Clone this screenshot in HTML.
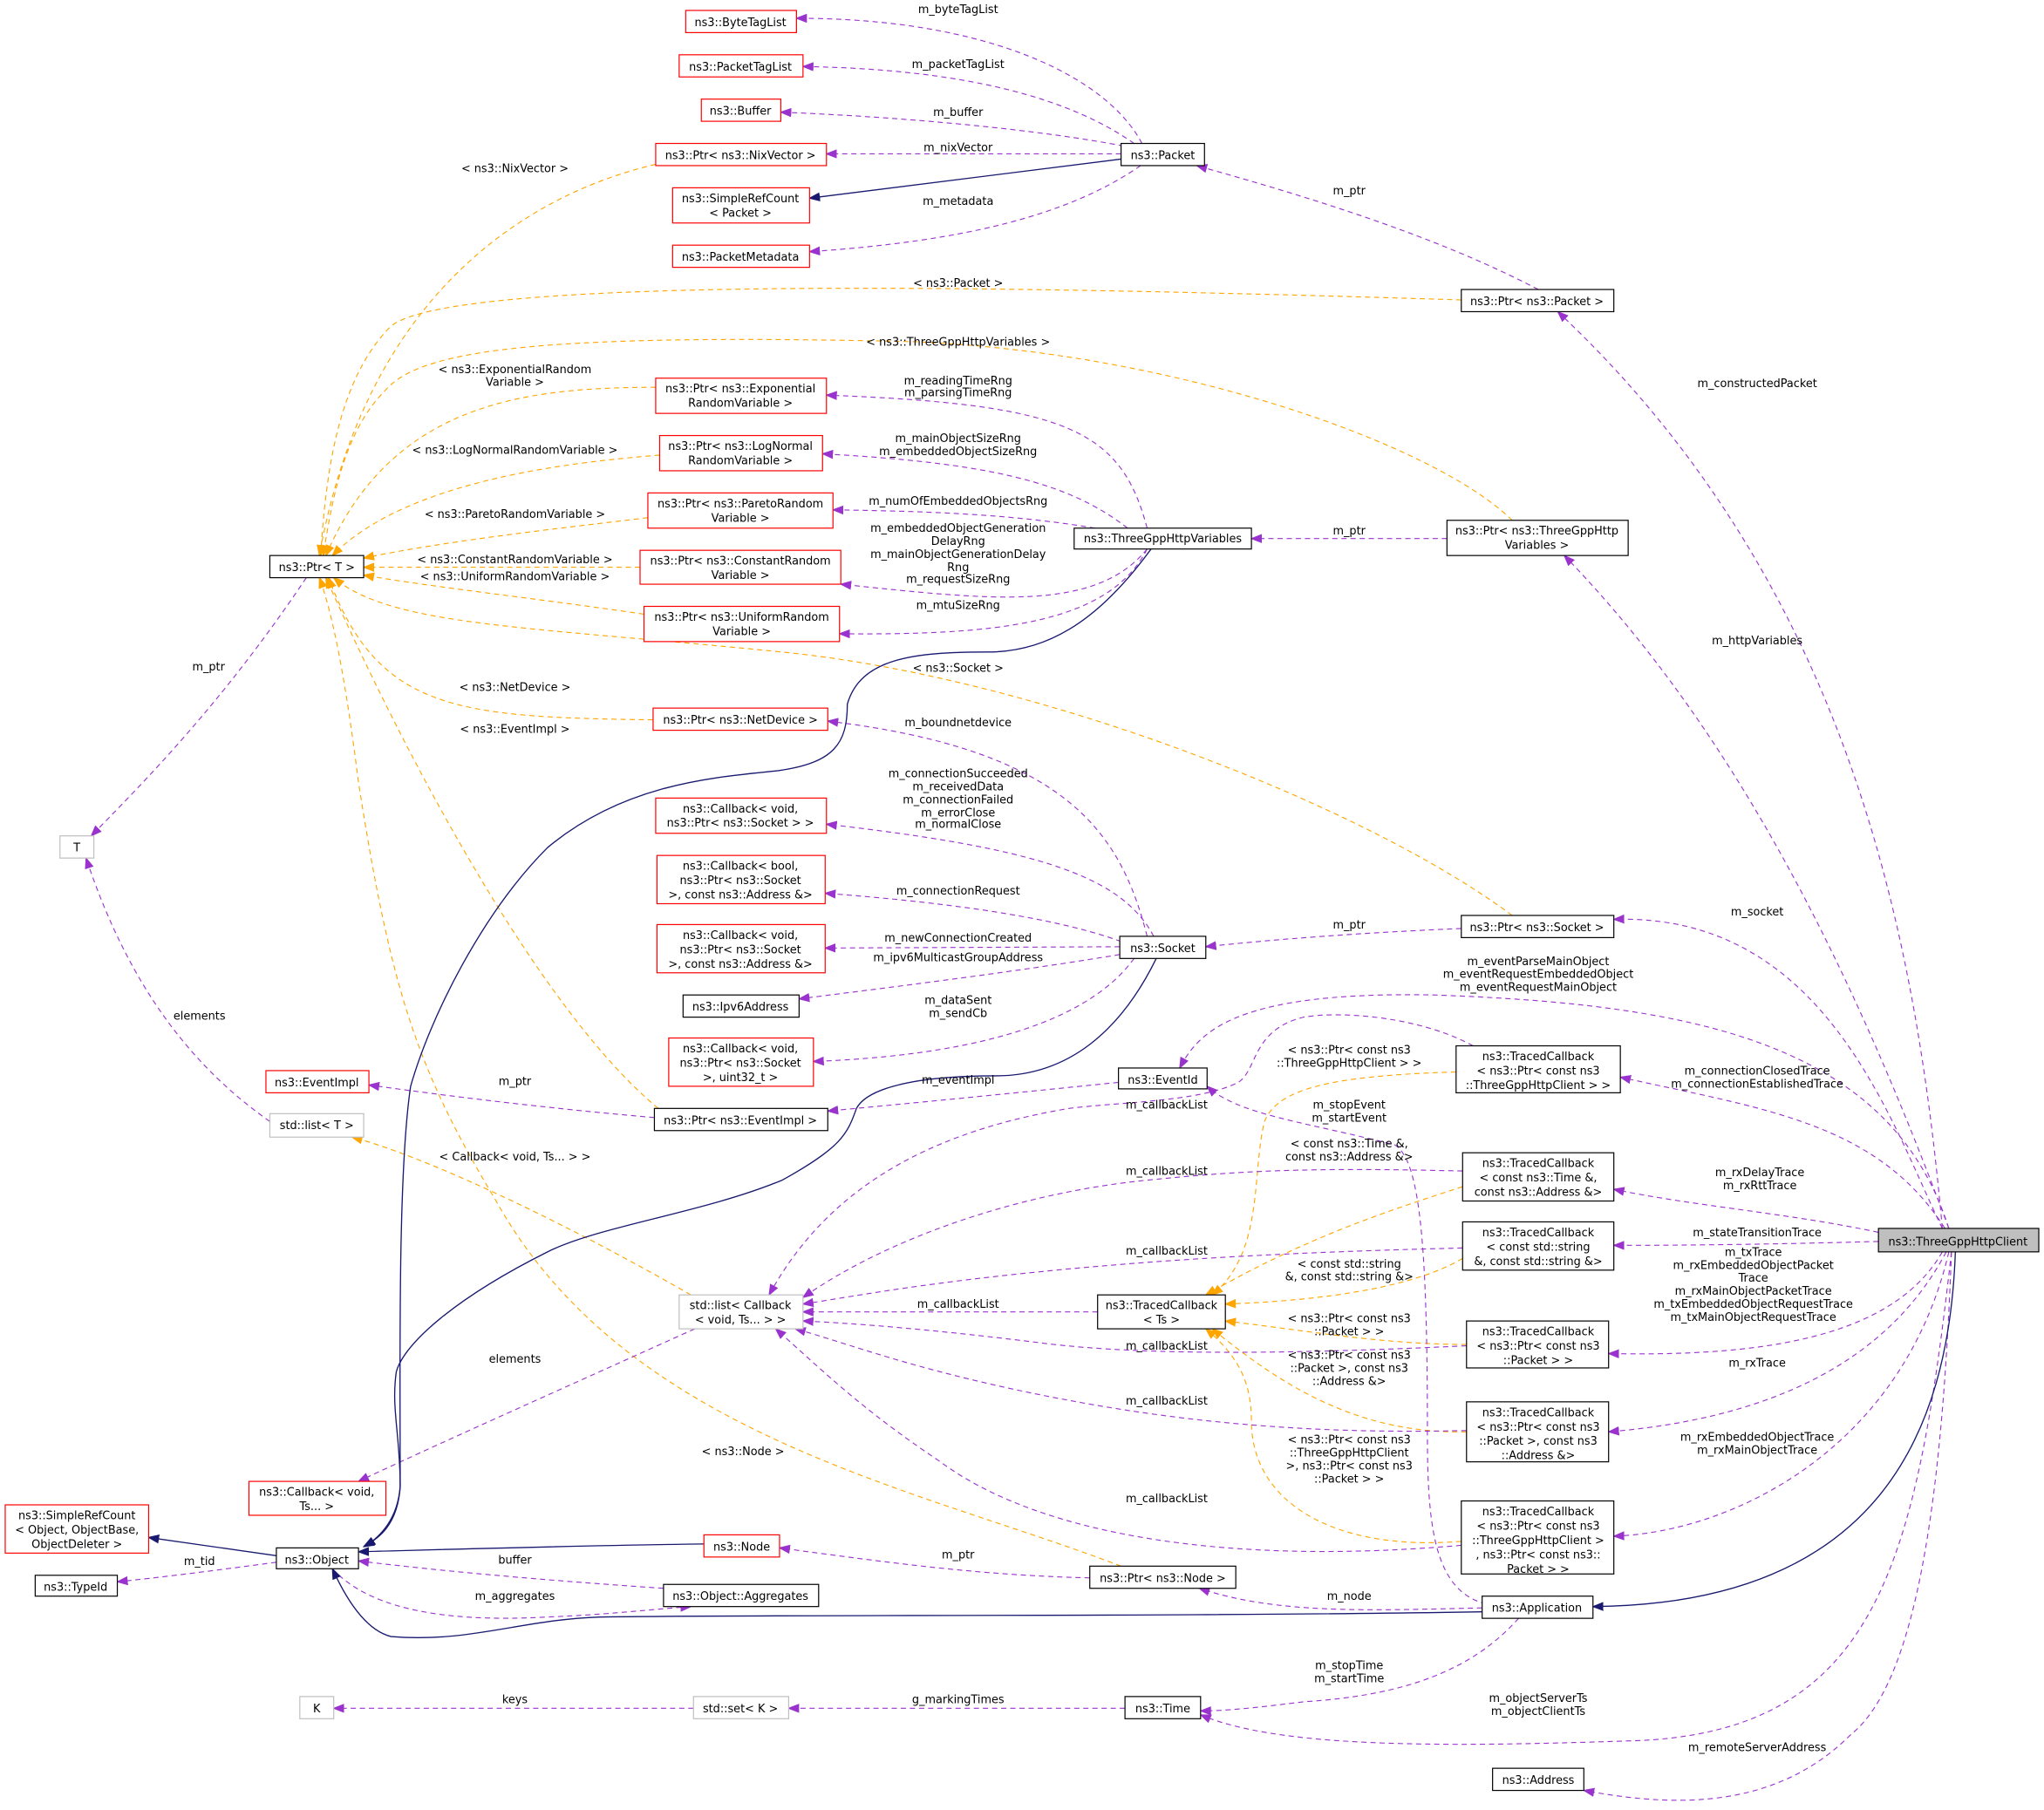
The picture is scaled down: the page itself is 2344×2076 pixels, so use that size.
<!DOCTYPE html>
<html><head><meta charset="utf-8"><style>
html,body{margin:0;padding:0;background:#fff;}
svg{display:block;}
text{font-family:"DejaVu Sans","Liberation Sans",sans-serif;font-size:8.6px;fill:#000;text-anchor:middle;}
.p{fill:none;stroke:#9a32cd;stroke-width:0.75;stroke-dasharray:4,3;}
.o{fill:none;stroke:#ffa500;stroke-width:0.75;stroke-dasharray:4,3;}
.n{fill:none;stroke:#191970;stroke-width:0.9;}
.r{fill:#fff;stroke:#ff0000;stroke-width:0.8;}
.b{fill:#fff;stroke:#000;stroke-width:0.8;}
.g{fill:#fff;stroke:#bfbfbf;stroke-width:0.8;}
</style></head><body>
<svg width="2344" height="2076" viewBox="0 0 1568 1388" preserveAspectRatio="none" xmlns="http://www.w3.org/2000/svg">
<defs>
<marker id="mp" markerWidth="9" markerHeight="7" refX="8" refY="3.5" orient="auto" markerUnits="userSpaceOnUse"><path d="M0,0 L9,3.5 L0,7 z" fill="#9a32cd"/></marker>
<marker id="mo" markerWidth="9" markerHeight="7" refX="8" refY="3.5" orient="auto" markerUnits="userSpaceOnUse"><path d="M0,0 L9,3.5 L0,7 z" fill="#ffa500"/></marker>
<marker id="mn" markerWidth="9" markerHeight="7" refX="8" refY="3.5" orient="auto" markerUnits="userSpaceOnUse"><path d="M0,0 L9,3.5 L0,7 z" fill="#191970"/></marker>
</defs>

<!-- orange edges to Ptr<T> -->
<g class="o" marker-end="url(#mo)">
<path d="M503,126 C400,150 280,230 245,426"/>
<path d="M1121,230 C800,220 350,210 300,250 C260,290 250,360 246,426"/>
<path d="M1160,399 C1100,340 900,270 700,262 C400,255 320,270 295,300 C265,330 255,380 248,426"/>
<path d="M503,297 C400,297 300,310 250,426"/>
<path d="M506,349 C430,355 310,370 255,426"/>
<path d="M497,397 C430,405 340,415 279,428"/>
<path d="M491,435 L279,435"/>
<path d="M494,471 C420,460 330,450 279,441"/>
<path d="M1160,702 C1050,620 800,520 600,500 C400,480 300,480 256,443"/>
<path d="M501,552 C350,550 290,545 252,443"/>
<path d="M505,850 C420,780 320,600 250,443"/>
<path d="M860,1201 C700,1140 480,1100 380,920 C320,820 300,760 275,600 C265,520 255,470 245,443"/>
<path d="M530,993 C420,930 320,885 270,872"/>
<path d="M1117,822 C1020,825 980,835 970,860 C960,900 970,960 930,993"/>
<path d="M1122,910 C1060,930 1000,950 925,993"/>
<path d="M1122,965 C1080,990 1000,998 940,1000"/>
<path d="M1125,1031 C1060,1031 1000,1020 940,1013"/>
<path d="M1125,1098 C1040,1100 980,1060 930,1019"/>
<path d="M1121,1182 C1020,1190 960,1150 960,1090 C960,1060 950,1040 925,1019"/>
</g>

<!-- purple edges -->
<g class="p" marker-end="url(#mp)">
<path d="M876,110 C850,60 760,14 611,14"/>
<path d="M870,110 C820,75 740,53 616,51"/>
<path d="M862,112 C800,100 700,90 599,86"/>
<path d="M860,118 L634,118"/>
<path d="M875,127 C820,165 740,185 621,193"/>
<path d="M1180,222 C1100,180 1000,150 918,127"/>
<path d="M1490,942 C1470,720 1420,450 1195,239"/>
<path d="M1495,942 C1420,740 1330,560 1200,426"/>
<path d="M1110,413 L960,413"/>
<path d="M880,405 C860,330 820,310 634,303"/>
<path d="M865,405 C820,370 760,355 631,348"/>
<path d="M840,405 C780,395 720,392 639,391"/>
<path d="M880,421 C840,470 760,460 645,448"/>
<path d="M880,421 C850,480 760,487 644,486"/>
<path d="M235,443 C170,540 110,600 70,641"/>
<path d="M207,860 C150,820 100,760 66,658"/>
<path d="M880,718 C860,640 820,575 635,553"/>
<path d="M885,718 C860,670 790,650 634,632"/>
<path d="M860,722 C800,700 700,690 633,685"/>
<path d="M859,726 L633,727"/>
<path d="M859,732 C780,745 700,755 613,766"/>
<path d="M870,735 C830,790 730,810 624,814"/>
<path d="M1121,712 C1050,715 980,720 925,726"/>
<path d="M1490,942 C1450,860 1400,700 1238,705"/>
<path d="M1495,942 C1450,800 1300,770 1100,763 C950,760 920,790 905,819"/>
<path d="M858,830 C780,838 700,846 635,852"/>
<path d="M502,857 C420,850 340,840 283,832"/>
<path d="M1140,1230 C1100,1220 1095,1170 1095,1100 C1095,960 1090,890 1070,878 C1000,860 950,855 926,833"/>
<path d="M1492,942 C1440,860 1350,850 1243,826"/>
<path d="M1441,945 C1370,930 1300,925 1238,912"/>
<path d="M1441,952 C1370,954 1300,955 1238,955"/>
<path d="M1490,960 C1450,1030 1340,1040 1234,1038"/>
<path d="M1493,960 C1440,1060 1330,1090 1234,1098"/>
<path d="M1495,960 C1460,1110 1330,1175 1238,1178"/>
<path d="M1497,960 C1470,1200 1440,1330 1250,1335 C1100,1340 980,1340 921,1315"/>
<path d="M1497,960 C1490,1150 1470,1290 1420,1330 C1360,1390 1280,1385 1215,1373"/>
<path d="M1137,1233 C1050,1235 980,1238 920,1218"/>
<path d="M1165,1241 C1130,1280 1080,1300 1000,1305 C960,1310 940,1312 921,1312"/>
<path d="M836,1210 C750,1208 680,1198 598,1187"/>
<path d="M509,1218 C420,1212 340,1205 275,1197"/>
<path d="M255,1203 C280,1230 330,1245 420,1240 C470,1238 500,1234 530,1232"/>
<path d="M212,1198 C160,1205 120,1210 90,1213"/>
<path d="M863,1310 L605,1310"/>
<path d="M532,1310 L256,1310"/>
<path d="M533,1019 C420,1070 330,1110 275,1136"/>
<path d="M842,1006 L616,1006"/>
<path d="M1130,802 C1090,780 1030,775 1000,780 C960,790 965,820 950,830 C920,845 860,845 820,850 C700,870 630,920 590,993"/>
<path d="M1122,898 C1000,895 950,898 880,905 C780,915 680,950 616,995"/>
<path d="M1122,957 C1000,960 900,965 800,975 C700,985 650,995 616,1000"/>
<path d="M1125,1032 C1000,1038 880,1040 800,1030 C720,1020 660,1015 616,1013"/>
<path d="M1125,1097 C1000,1100 900,1090 800,1070 C700,1050 650,1030 610,1019"/>
<path d="M1121,1185 C950,1200 800,1180 720,1120 C660,1080 630,1050 595,1019"/>
</g>

<!-- navy inheritance -->
<g class="n" marker-end="url(#mn)">
<path d="M860,122 L621,152"/>
<path d="M883,421 C840,480 800,500 758,500 C700,500 660,505 650,540 C650,570 640,585 597,591 C550,596 480,600 420,650 C370,700 330,780 315,833 C305,900 307,1050 307,1140 C305,1170 290,1180 279,1186"/>
<path d="M887,735 C860,790 820,825 764,825 C700,825 665,835 657,850 C650,870 645,880 600,905 C540,930 460,940 420,960 C350,995 310,1030 304,1052 C300,1080 307,1100 307,1140 C305,1165 292,1178 280,1186"/>
<path d="M540,1184 C450,1185 350,1188 275,1190"/>
<path d="M212,1193 C170,1187 140,1183 114,1179"/>
<path d="M1137,1236 C900,1240 600,1238 460,1240 C400,1242 360,1260 300,1255 C280,1250 265,1225 255,1203"/>
<path d="M1500,960 C1495,1100 1440,1230 1222,1232"/>
</g>

<!-- nodes -->
<g>
<rect class="r" x="526" y="8" width="85" height="17"/><text x="568" y="20">ns3::ByteTagList</text>
<rect class="r" x="521" y="42" width="95" height="17"/><text x="568" y="54">ns3::PacketTagList</text>
<rect class="r" x="538" y="76" width="61" height="17"/><text x="568" y="88">ns3::Buffer</text>
<rect class="r" x="503" y="110" width="131" height="17"/><text x="568" y="122">ns3::Ptr&lt; ns3::NixVector &gt;</text>
<rect class="r" x="516" y="144" width="105" height="27"/><text x="568" y="155">ns3::SimpleRefCount</text><text x="568" y="166">&lt; Packet &gt;</text>
<rect class="r" x="516" y="188" width="105" height="17"/><text x="568" y="200">ns3::PacketMetadata</text>
<rect class="b" x="860" y="110" width="64" height="17"/><text x="892" y="122">ns3::Packet</text>
<rect class="b" x="1121" y="222" width="117" height="17"/><text x="1179" y="234">ns3::Ptr&lt; ns3::Packet &gt;</text>
<rect class="r" x="503" y="290" width="131" height="27"/><text x="568" y="301">ns3::Ptr&lt; ns3::Exponential</text><text x="568" y="312">RandomVariable &gt;</text>
<rect class="r" x="506" y="334" width="125" height="27"/><text x="568" y="345">ns3::Ptr&lt; ns3::LogNormal</text><text x="568" y="356">RandomVariable &gt;</text>
<rect class="r" x="497" y="378" width="142" height="27"/><text x="568" y="389">ns3::Ptr&lt; ns3::ParetoRandom</text><text x="568" y="400">Variable &gt;</text>
<rect class="r" x="491" y="422" width="154" height="26"/><text x="568" y="433">ns3::Ptr&lt; ns3::ConstantRandom</text><text x="568" y="444">Variable &gt;</text>
<rect class="r" x="494" y="465" width="150" height="27"/><text x="569" y="476">ns3::Ptr&lt; ns3::UniformRandom</text><text x="569" y="487">Variable &gt;</text>
<rect class="b" x="207" y="426" width="72" height="17"/><text x="243" y="438">ns3::Ptr&lt; T &gt;</text>
<rect class="b" x="824" y="405" width="136" height="16"/><text x="892" y="416">ns3::ThreeGppHttpVariables</text>
<rect class="b" x="1110" y="399" width="139" height="27"/><text x="1179" y="410">ns3::Ptr&lt; ns3::ThreeGppHttp</text><text x="1179" y="421">Variables &gt;</text>
<rect class="r" x="501" y="543" width="134" height="17"/><text x="568" y="555">ns3::Ptr&lt; ns3::NetDevice &gt;</text>
<rect class="r" x="503" y="612" width="131" height="27"/><text x="568" y="623">ns3::Callback&lt; void,</text><text x="568" y="634">ns3::Ptr&lt; ns3::Socket &gt; &gt;</text>
<rect class="r" x="504" y="656" width="129" height="37"/><text x="568" y="667">ns3::Callback&lt; bool,</text><text x="568" y="678">ns3::Ptr&lt; ns3::Socket</text><text x="568" y="689">&gt;, const ns3::Address &amp;&gt;</text>
<rect class="g" x="46" y="641" width="26" height="17"/><text x="59" y="653">T</text>
<rect class="r" x="504" y="709" width="129" height="37"/><text x="568" y="720">ns3::Callback&lt; void,</text><text x="568" y="731">ns3::Ptr&lt; ns3::Socket</text><text x="568" y="742">&gt;, const ns3::Address &amp;&gt;</text>
<rect class="b" x="859" y="718" width="66" height="17"/><text x="892" y="730">ns3::Socket</text>
<rect class="b" x="1121" y="702" width="117" height="17"/><text x="1179" y="714">ns3::Ptr&lt; ns3::Socket &gt;</text>
<rect class="b" x="524" y="763" width="89" height="17"/><text x="568" y="775">ns3::Ipv6Address</text>
<rect class="r" x="513" y="796" width="111" height="37"/><text x="568" y="807">ns3::Callback&lt; void,</text><text x="568" y="818">ns3::Ptr&lt; ns3::Socket</text><text x="568" y="829">&gt;, uint32_t &gt;</text>
<rect class="r" x="204" y="821" width="79" height="17"/><text x="243" y="833">ns3::EventImpl</text>
<rect class="b" x="502" y="850" width="133" height="17"/><text x="568" y="862">ns3::Ptr&lt; ns3::EventImpl &gt;</text>
<rect class="b" x="858" y="819" width="68" height="16"/><text x="892" y="831">ns3::EventId</text>
<rect class="g" x="207" y="854" width="72" height="18"/><text x="243" y="866">std::list&lt; T &gt;</text>
<rect class="b" x="1117" y="802" width="126" height="36"/><text x="1180" y="813">ns3::TracedCallback</text><text x="1180" y="824">&lt; ns3::Ptr&lt; const ns3</text><text x="1180" y="835">::ThreeGppHttpClient &gt; &gt;</text>
<rect class="b" x="1122" y="884" width="116" height="37"/><text x="1180" y="895">ns3::TracedCallback</text><text x="1180" y="906">&lt; const ns3::Time &amp;,</text><text x="1180" y="917">const ns3::Address &amp;&gt;</text>
<rect class="b" x="1122" y="937" width="116" height="37"/><text x="1180" y="948">ns3::TracedCallback</text><text x="1180" y="959">&lt; const std::string</text><text x="1180" y="970">&amp;, const std::string &amp;&gt;</text>
<rect x="1441" y="942" width="123" height="18" fill="#bfbfbf" stroke="#000" stroke-width="0.8"/><text x="1502" y="955">ns3::ThreeGppHttpClient</text>
<rect class="g" x="521" y="993" width="95" height="26"/><text x="568" y="1004">std::list&lt; Callback</text><text x="568" y="1015">&lt; void, Ts... &gt; &gt;</text>
<rect class="b" x="842" y="993" width="98" height="26"/><text x="891" y="1004">ns3::TracedCallback</text><text x="891" y="1015">&lt; Ts &gt;</text>
<rect class="b" x="1125" y="1013" width="109" height="36"/><text x="1180" y="1024">ns3::TracedCallback</text><text x="1180" y="1035">&lt; ns3::Ptr&lt; const ns3</text><text x="1180" y="1046">::Packet &gt; &gt;</text>
<rect class="b" x="1125" y="1075" width="109" height="46"/><text x="1180" y="1086">ns3::TracedCallback</text><text x="1180" y="1097">&lt; ns3::Ptr&lt; const ns3</text><text x="1180" y="1108">::Packet &gt;, const ns3</text><text x="1180" y="1119">::Address &amp;&gt;</text>
<rect class="b" x="1121" y="1151" width="117" height="56"/><text x="1180" y="1162">ns3::TracedCallback</text><text x="1180" y="1173">&lt; ns3::Ptr&lt; const ns3</text><text x="1180" y="1184">::ThreeGppHttpClient &gt;</text><text x="1180" y="1195">, ns3::Ptr&lt; const ns3::</text><text x="1180" y="1206">Packet &gt; &gt;</text>
<rect class="r" x="191" y="1136" width="105" height="26"/><text x="243" y="1147">ns3::Callback&lt; void,</text><text x="243" y="1158">Ts... &gt;</text>
<rect class="r" x="4" y="1154" width="110" height="37"/><text x="59" y="1165">ns3::SimpleRefCount</text><text x="59" y="1176">&lt; Object, ObjectBase,</text><text x="59" y="1187">ObjectDeleter &gt;</text>
<rect class="b" x="212" y="1187" width="63" height="16"/><text x="243" y="1199">ns3::Object</text>
<rect class="b" x="27" y="1208" width="63" height="16"/><text x="58" y="1220">ns3::TypeId</text>
<rect class="r" x="540" y="1177" width="58" height="17"/><text x="569" y="1189">ns3::Node</text>
<rect class="b" x="509" y="1215" width="119" height="17"/><text x="568" y="1227">ns3::Object::Aggregates</text>
<rect class="b" x="836" y="1201" width="112" height="17"/><text x="892" y="1213">ns3::Ptr&lt; ns3::Node &gt;</text>
<rect class="b" x="1137" y="1224" width="85" height="17"/><text x="1179" y="1236">ns3::Application</text>
<rect class="g" x="230" y="1301" width="26" height="17"/><text x="243" y="1313">K</text>
<rect class="g" x="532" y="1301" width="73" height="17"/><text x="568" y="1313">std::set&lt; K &gt;</text>
<rect class="b" x="863" y="1301" width="58" height="17"/><text x="892" y="1313">ns3::Time</text>
<rect class="b" x="1145" y="1356" width="70" height="17"/><text x="1180" y="1368">ns3::Address</text>
</g>

<!-- edge labels -->
<g>
<text x="735" y="10">m_byteTagList</text>
<text x="735" y="52">m_packetTagList</text>
<text x="735" y="89">m_buffer</text>
<text x="735" y="116">m_nixVector</text>
<text x="735" y="157">m_metadata</text>
<text x="1035" y="149">m_ptr</text>
<text x="1348" y="297">m_constructedPacket</text>
<text x="1348" y="494">m_httpVariables</text>
<text x="1035" y="410">m_ptr</text>
<text x="735" y="295">m_readingTimeRng</text><text x="735" y="304">m_parsingTimeRng</text>
<text x="735" y="339">m_mainObjectSizeRng</text><text x="735" y="349">m_embeddedObjectSizeRng</text>
<text x="735" y="387">m_numOfEmbeddedObjectsRng</text>
<text x="735" y="408">m_embeddedObjectGeneration</text><text x="735" y="418">DelayRng</text><text x="735" y="428">m_mainObjectGenerationDelay</text><text x="735" y="438">Rng</text><text x="735" y="447">m_requestSizeRng</text>
<text x="735" y="467">m_mtuSizeRng</text>
<text x="395" y="132">&lt; ns3::NixVector &gt;</text>
<text x="735" y="220">&lt; ns3::Packet &gt;</text>
<text x="735" y="265">&lt; ns3::ThreeGppHttpVariables &gt;</text>
<text x="395" y="286">&lt; ns3::ExponentialRandom</text><text x="395" y="296">Variable &gt;</text>
<text x="395" y="348">&lt; ns3::LogNormalRandomVariable &gt;</text>
<text x="395" y="397">&lt; ns3::ParetoRandomVariable &gt;</text>
<text x="395" y="432">&lt; ns3::ConstantRandomVariable &gt;</text>
<text x="395" y="445">&lt; ns3::UniformRandomVariable &gt;</text>
<text x="735" y="515">&lt; ns3::Socket &gt;</text>
<text x="395" y="530">&lt; ns3::NetDevice &gt;</text>
<text x="395" y="562">&lt; ns3::EventImpl &gt;</text>
<text x="160" y="514">m_ptr</text>
<text x="153" y="782">elements</text>
<text x="735" y="557">m_boundnetdevice</text>
<text x="735" y="596">m_connectionSucceeded</text><text x="735" y="606">m_receivedData</text><text x="735" y="616">m_connectionFailed</text><text x="735" y="626">m_errorClose</text><text x="735" y="635">m_normalClose</text>
<text x="735" y="686">m_connectionRequest</text>
<text x="735" y="722">m_newConnectionCreated</text>
<text x="735" y="737">m_ipv6MulticastGroupAddress</text>
<text x="735" y="770">m_dataSent</text><text x="735" y="780">m_sendCb</text>
<text x="1035" y="712">m_ptr</text>
<text x="1348" y="702">m_socket</text>
<text x="1180" y="740">m_eventParseMainObject</text><text x="1180" y="750">m_eventRequestEmbeddedObject</text><text x="1180" y="760">m_eventRequestMainObject</text>
<text x="735" y="831">m_eventImpl</text>
<text x="395" y="832">m_ptr</text>
<text x="1035" y="808">&lt; ns3::Ptr&lt; const ns3</text><text x="1035" y="818">::ThreeGppHttpClient &gt; &gt;</text>
<text x="1035" y="850">m_stopEvent</text><text x="1035" y="860">m_startEvent</text>
<text x="895" y="850">m_callbackList</text>
<text x="1348" y="824">m_connectionClosedTrace</text><text x="1348" y="834">m_connectionEstablishedTrace</text>
<text x="895" y="901">m_callbackList</text>
<text x="1035" y="880">&lt; const ns3::Time &amp;,</text><text x="1035" y="890">const ns3::Address &amp;&gt;</text>
<text x="1350" y="902">m_rxDelayTrace</text><text x="1350" y="912">m_rxRttTrace</text>
<text x="1348" y="948">m_stateTransitionTrace</text>
<text x="895" y="962">m_callbackList</text>
<text x="1035" y="972">&lt; const std::string</text><text x="1035" y="982">&amp;, const std::string &amp;&gt;</text>
<text x="1345" y="963">m_txTrace</text><text x="1345" y="973">m_rxEmbeddedObjectPacket</text><text x="1345" y="983">Trace</text><text x="1345" y="993">m_rxMainObjectPacketTrace</text><text x="1345" y="1003">m_txEmbeddedObjectRequestTrace</text><text x="1345" y="1013">m_txMainObjectRequestTrace</text>
<text x="735" y="1003">m_callbackList</text>
<text x="1035" y="1014">&lt; ns3::Ptr&lt; const ns3</text><text x="1035" y="1024">::Packet &gt; &gt;</text>
<text x="895" y="1035">m_callbackList</text>
<text x="1035" y="1042">&lt; ns3::Ptr&lt; const ns3</text><text x="1035" y="1052">::Packet &gt;, const ns3</text><text x="1035" y="1062">::Address &amp;&gt;</text>
<text x="1348" y="1048">m_rxTrace</text>
<text x="895" y="1077">m_callbackList</text>
<text x="1035" y="1107">&lt; ns3::Ptr&lt; const ns3</text><text x="1035" y="1117">::ThreeGppHttpClient</text><text x="1035" y="1127">&gt;, ns3::Ptr&lt; const ns3</text><text x="1035" y="1137">::Packet &gt; &gt;</text>
<text x="1348" y="1105">m_rxEmbeddedObjectTrace</text><text x="1348" y="1115">m_rxMainObjectTrace</text>
<text x="895" y="1152">m_callbackList</text>
<text x="395" y="890">&lt; Callback&lt; void, Ts... &gt; &gt;</text>
<text x="395" y="1045">elements</text>
<text x="570" y="1116">&lt; ns3::Node &gt;</text>
<text x="395" y="1199">buffer</text>
<text x="395" y="1227">m_aggregates</text>
<text x="153" y="1200">m_tid</text>
<text x="735" y="1195">m_ptr</text>
<text x="1035" y="1227">m_node</text>
<text x="1035" y="1280">m_stopTime</text><text x="1035" y="1290">m_startTime</text>
<text x="1180" y="1305">m_objectServerTs</text><text x="1180" y="1315">m_objectClientTs</text>
<text x="1348" y="1343">m_remoteServerAddress</text>
<text x="395" y="1306">keys</text>
<text x="735" y="1306">g_markingTimes</text>
</g>
</svg>
</body></html>
